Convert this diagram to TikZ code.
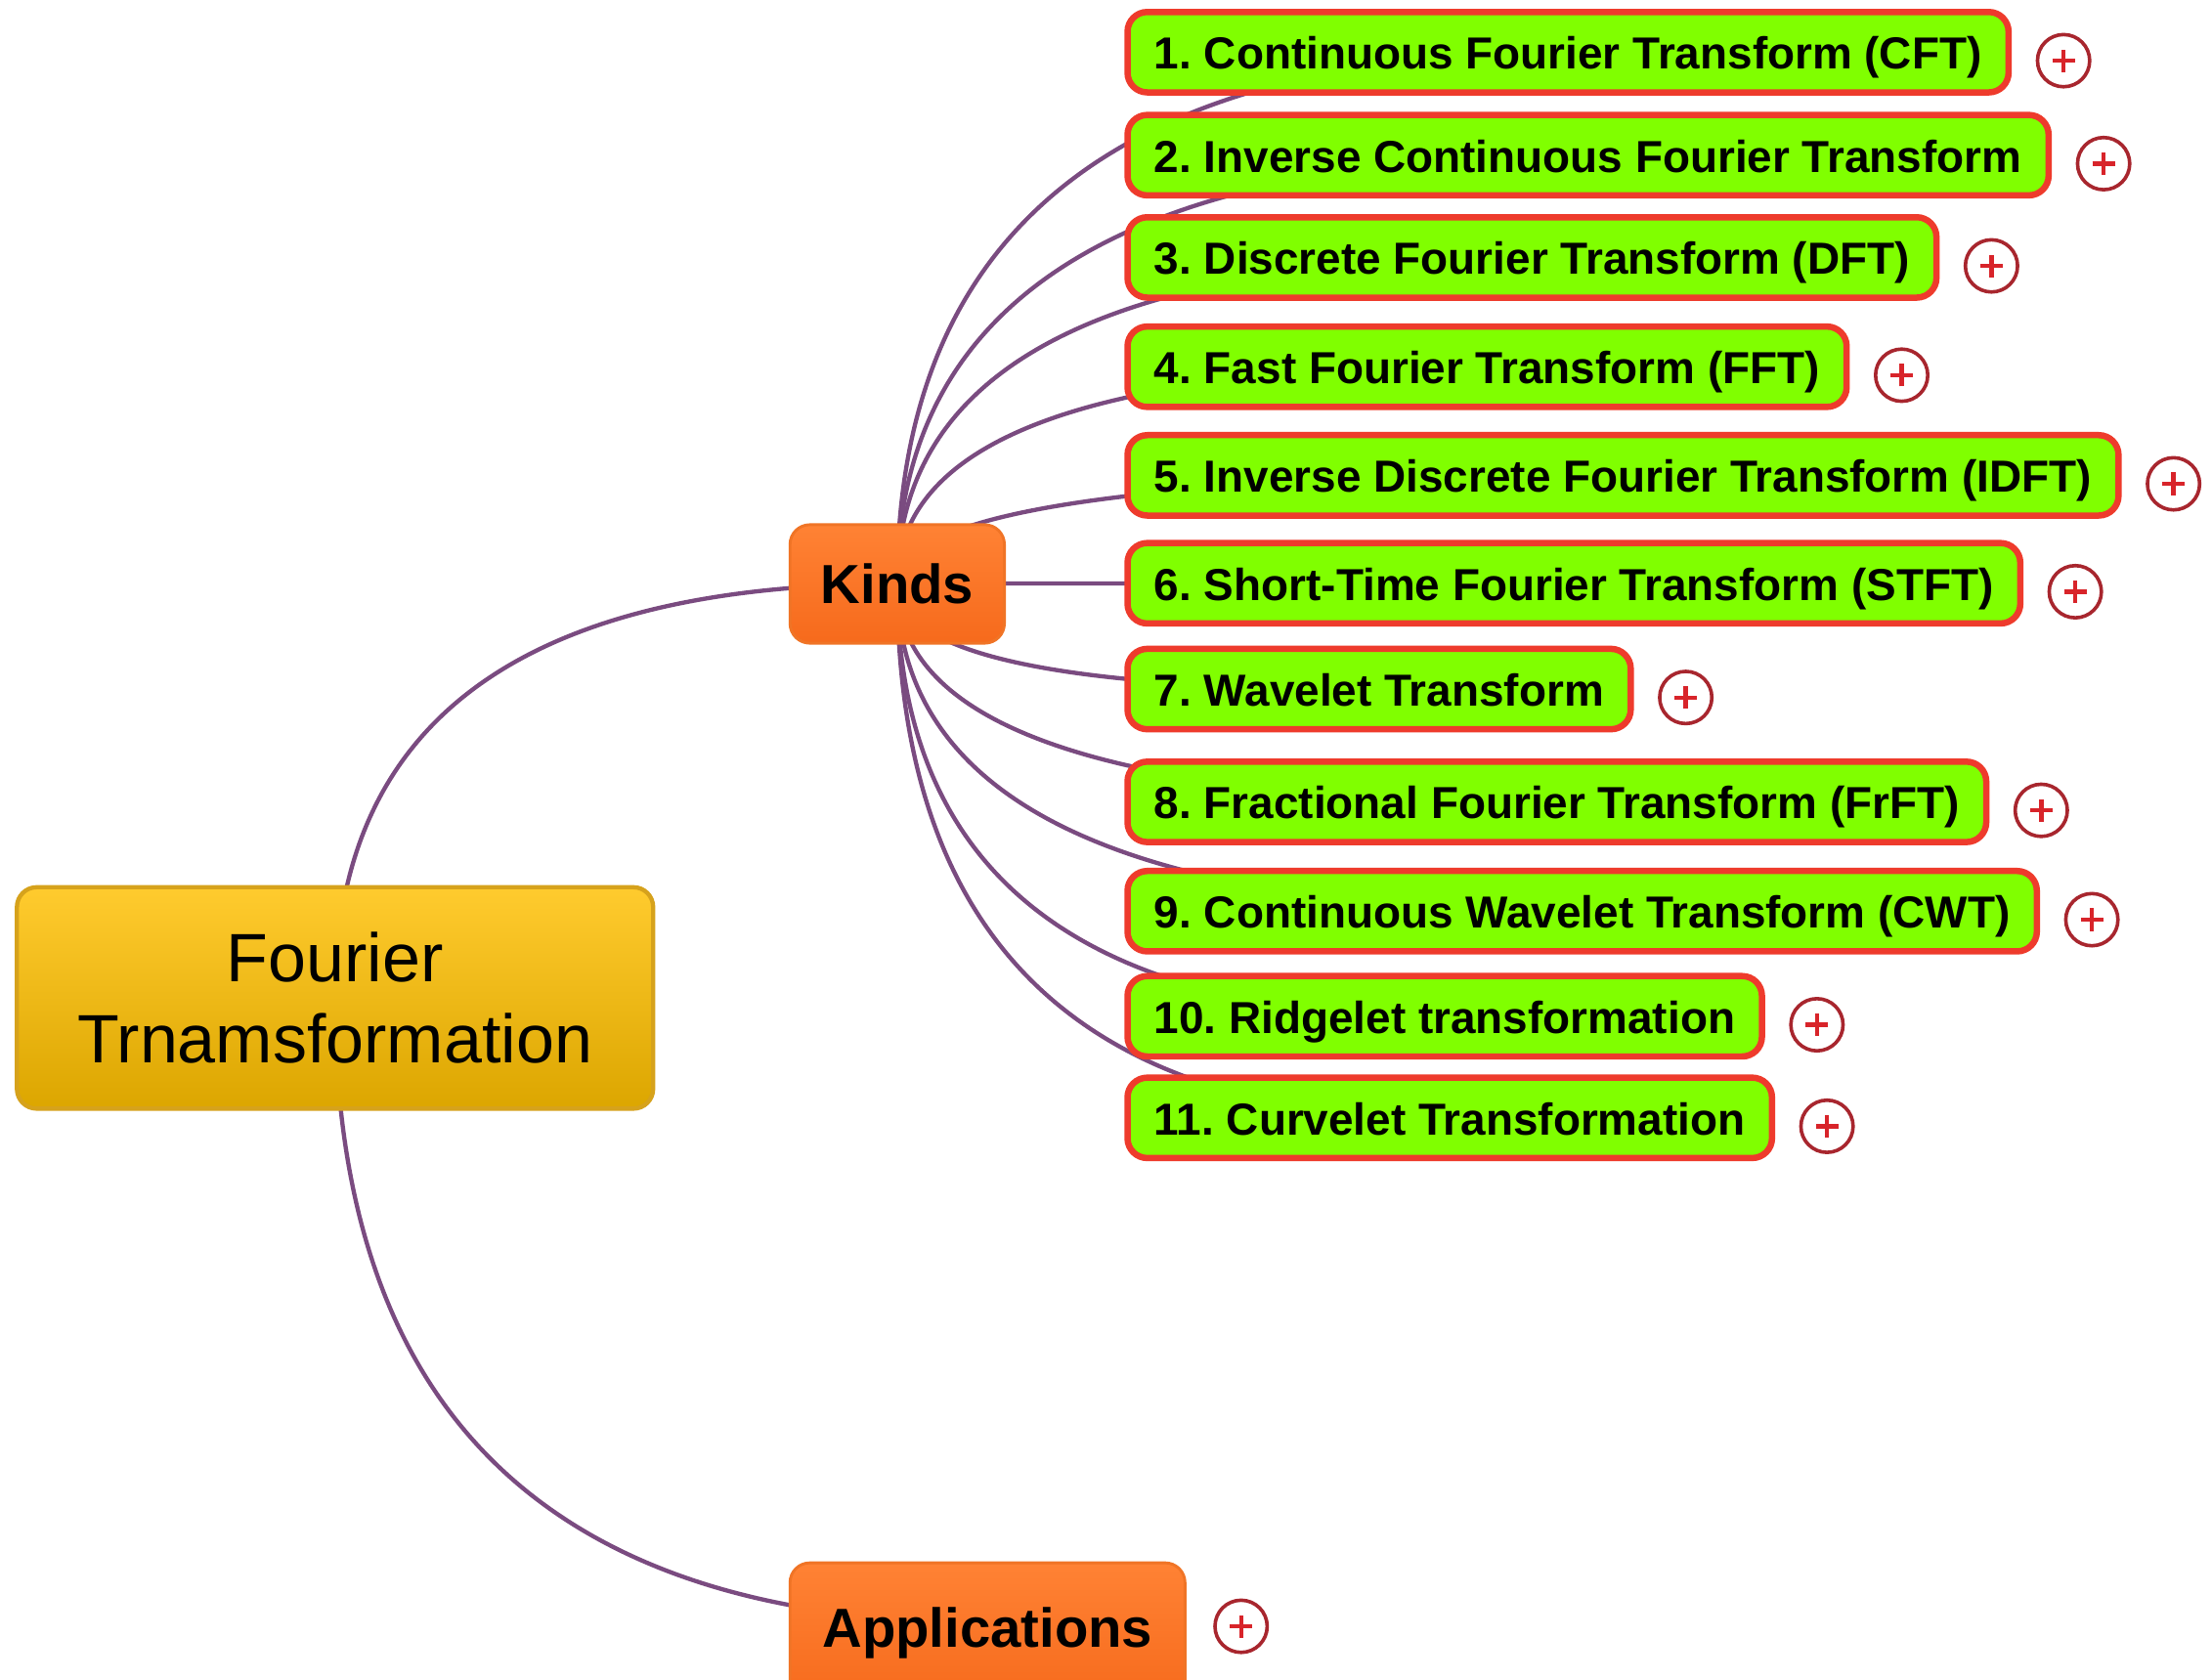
\documentclass[tikz,border=0pt]{standalone}
\usepackage{fontspec}
\setmainfont{Liberation Sans}
\usetikzlibrary{calc,backgrounds,positioning}

\definecolor{linkpurple}{HTML}{7A4B80}
\definecolor{rootA}{HTML}{FFCB2E}
\definecolor{rootB}{HTML}{DCA600}
\definecolor{rootedge}{HTML}{D6A21C}
\definecolor{orangeA}{HTML}{FF8234}
\definecolor{orangeB}{HTML}{F66A1C}
\definecolor{orangeedge}{HTML}{F07426}
\definecolor{kindgreen}{HTML}{80FF00}
\definecolor{kindred}{HTML}{EE3B2C}
\definecolor{plusring}{HTML}{A8262E}
\definecolor{plusred}{HTML}{D8242A}

\begin{document}
\frenchspacing
\begin{tikzpicture}[x=1pt,y=-1pt,
  topic/.style={rounded corners=14pt, align=center, text=black},
  rootbox/.style={topic, draw=rootedge, line width=3pt,
    top color=rootA, bottom color=rootB,
    minimum width=451pt, minimum height=157pt,
    font=\fontsize{48.5}{58}\selectfont},
  mainbox/.style={topic, draw=orangeedge, line width=2pt,
    top color=orangeA, bottom color=orangeB, minimum height=84pt,
    font=\fontsize{39}{46}\selectfont\bfseries},
  kindbox/.style={rounded corners=14pt, draw=kindred, line width=4.5pt,
    fill=kindgreen, minimum height=57pt, inner xsep=19pt, anchor=west,
    text height=26pt, text depth=2pt,
    font=\fontsize{31.8}{38}\selectfont\bfseries},
  expander/.style={circle, draw=plusring, line width=2.5pt, fill=white,
    minimum size=37pt, inner sep=0pt, yshift=-6pt,
    path picture={
      \draw[plusred, line width=3pt]
        ([xshift=-8pt]path picture bounding box.center) -- ([xshift=8pt]path picture bounding box.center)
        ([yshift=-8pt]path picture bounding box.center) -- ([yshift=8pt]path picture bounding box.center);}},
  link/.style={draw=linkpurple, line width=3pt}
]
\useasboundingbox (0,0) rectangle (1568,1191);
\clip (0,0) rectangle (1568,1191);

% central topic and its two branches
\node[rootbox] (root) at (237.5,707.5) {Fourier\\Trnamsformation};
\node[mainbox, minimum width=152pt] (kinds) at (636,414) {Kinds};
\node[mainbox, minimum width=280pt, minimum height=100pt] (apps) at (700,1158) {Applications};
\coordinate (appsend) at ([yshift=8pt]apps.center);
\node[expander, right=19pt of apps, yshift=11pt] (papps) {};

% the kinds of transforms
\node[kindbox] (c1)  at (797,37)    {1. Continuous Fourier Transform (CFT)};
\node[kindbox] (c2)  at (797,110)   {2. Inverse Continuous Fourier Transform};
\node[kindbox] (c3)  at (797,182.5) {3. Discrete Fourier Transform (DFT)};
\node[kindbox] (c4)  at (797,260)   {4. Fast Fourier Transform (FFT)};
\node[kindbox] (c5)  at (797,337)   {5. Inverse Discrete Fourier Transform (IDFT)};
\node[kindbox] (c6)  at (797,413.5) {6. Short-Time Fourier Transform (STFT)};
\node[kindbox] (c7)  at (797,488.5) {7. Wavelet Transform};
\node[kindbox] (c8)  at (797,568.5) {8. Fractional Fourier Transform (FrFT)};
\node[kindbox] (c9)  at (797,646)   {9. Continuous Wavelet Transform (CWT)};
\node[kindbox] (c10) at (797,720.5) {10. Ridgelet transformation};
\node[kindbox] (c11) at (797,792.5) {11. Curvelet Transformation};

% collapsed-branch markers
\foreach \i in {1,...,11} {
  \node[expander, right=17pt of c\i] (p\i) {};
}

% connectors, drawn underneath the topics
\begin{pgfonlayer}{background}
  \fill[white] (0,0) rectangle (1568,1191);
  \draw[link] (root.center)
    .. controls ($(root.center)!0.667!(root.center |- kinds.center)$)
            and ($(kinds.center)!0.667!(root.center |- kinds.center)$) .. (kinds.center);
  \draw[link] (root.center)
    .. controls ($(root.center)!0.667!(root.center |- appsend)$)
            and ($(appsend)!0.667!(root.center |- appsend)$) .. (appsend);
  \foreach \i in {1,...,11} {
    \draw[link] (kinds.center)
      .. controls ($(kinds.center)!0.667!(kinds.center |- c\i.center)$)
              and ($(c\i.center)!0.667!(kinds.center |- c\i.center)$) .. (c\i.center);
  }
\end{pgfonlayer}
\end{tikzpicture}
\end{document}
